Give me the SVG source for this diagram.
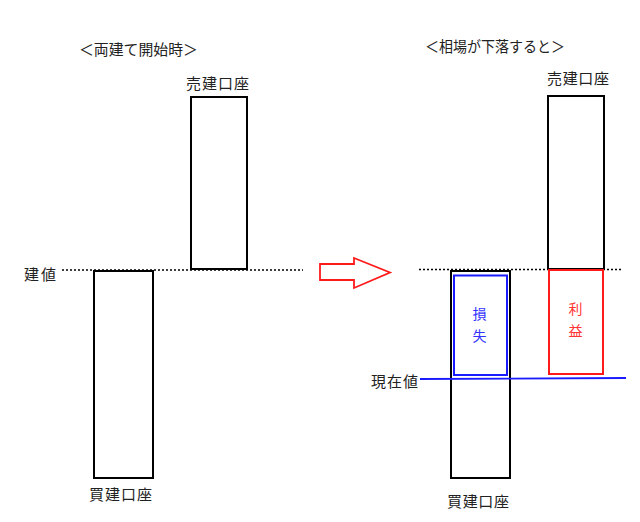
<svg xmlns="http://www.w3.org/2000/svg" width="640" height="522" viewBox="0 0 640 522">
<style>
text{font-family:"Noto Sans CJK JP","Noto Sans CJK SC",sans-serif;font-size:15px;fill:#222;dominant-baseline:central}
.v{font-size:14px}
.box{fill:#fff;stroke:#000;stroke-width:2}
.dot{stroke:#000;stroke-width:1.5;stroke-dasharray:2 2;fill:none}
</style>
<rect width="640" height="522" fill="#fff"/>
<g id="connectors">
<line class="dot" x1="62" y1="270" x2="303" y2="270"/>
<line class="dot" x1="419" y1="269.5" x2="623" y2="269.5"/>
</g>
<g id="title-left"><text x="79" y="48" textLength="119" lengthAdjust="spacingAndGlyphs">＜両建て開始時＞</text></g>
<g id="title-right"><text x="425" y="45" textLength="140" lengthAdjust="spacingAndGlyphs">＜相場が下落すると＞</text></g>
<g id="label-tatene"><text x="24" y="273" textLength="32">建値</text></g>
<g id="sell-left">
<rect class="box" x="191" y="97" width="56" height="172"/>
<text x="186" y="82" textLength="63">売建口座</text>
</g>
<g id="buy-left">
<rect class="box" x="94" y="271" width="59" height="207"/>
<text x="89" y="493" textLength="63">買建口座</text>
</g>
<g id="arrow">
<polygon points="320,264 354,264 354,258 390,272.5 354,288 354,280 320,280" fill="#fff" stroke="#ff1a1a" stroke-width="1.8"/>
</g>
<g id="sell-right">
<rect class="box" x="548" y="96" width="56" height="173"/>
<text x="547" y="77" textLength="62">売建口座</text>
</g>
<g id="buy-right">
<rect class="box" x="451" y="271" width="59" height="207"/>
<text x="447" y="500" textLength="62">買建口座</text>
</g>
<g id="loss">
<rect x="454" y="275.5" width="53" height="99.5" fill="none" stroke="#1a1aff" stroke-width="2"/>
<text class="v" x="479.5" y="313" text-anchor="middle" style="fill:#3333ff">損</text>
<text class="v" x="479.5" y="334.5" text-anchor="middle" style="fill:#3333ff">失</text>
</g>
<g id="profit">
<rect x="549" y="270" width="54" height="104" fill="none" stroke="#ff1a1a" stroke-width="2"/>
<text class="v" x="575.5" y="308" text-anchor="middle" style="fill:#ff3333">利</text>
<text class="v" x="575.5" y="330" text-anchor="middle" style="fill:#ff3333">益</text>
</g>
<g id="current-price">
<line x1="420" y1="379" x2="626" y2="378" stroke="#1a1aff" stroke-width="1.8"/>
<text x="371" y="380" textLength="47">現在値</text>
</g>
</svg>
